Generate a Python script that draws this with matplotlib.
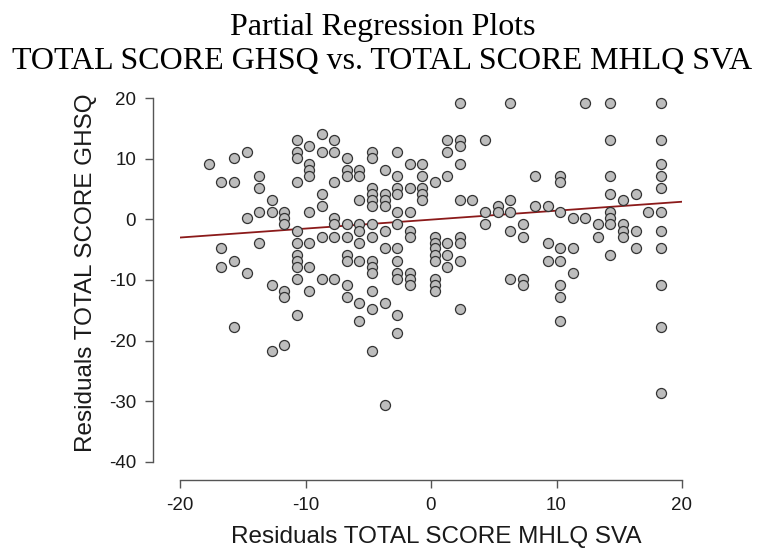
import matplotlib
matplotlib.use('Agg')
import matplotlib.pyplot as plt
import numpy as np

# residual pairs
resid_mhlq = [
    -17.7, -15.7, -14.7, -16.7, -15.7, -13.7, -13.7, -12.7, -14.7, -13.7, -12.7, -11.7, -11.7, -11.7,
    -10.7, -10.7, -10.7, -10.7, -9.7, -9.7, -9.7, -9.7, -9.7, -8.7, -8.7, -8.7, -8.7, -7.7, -7.7, -7.7,
    -7.7, -7.7,
    2.3, 6.3, 1.3, 2.3, 2.3, 4.3, 1.3, -6.7, -4.7, -4.7, -2.7, -6.7, -6.7, -5.7, -5.7, -3.7, -1.7, -0.7,
    -2.7, -0.7, 2.3, 1.3, 0.3, -4.7, -4.7, -4.7, -4.7, -3.7, -3.7, -3.7, -5.7, -2.7, -2.7, -1.7, -0.7,
    -0.7, -0.7, 2.3, 3.3, -2.7, -1.7, 4.3, 5.3, 5.3, 6.3, 6.3, -6.7, -5.7, -4.7, -2.7, 4.3, 7.3,
    12.3, 14.3, 18.3, 14.3, 18.3, 18.3, 18.3, 18.3, 8.3, 10.3, 10.3, 14.3, 14.3, 16.3, 15.3, 8.3, 9.3,
    10.3, 17.3, 18.3, 14.3, 14.3, 14.3, 11.3, 12.3, 13.3, 15.3,
    -10.7, -13.7, -10.7, -9.7, -8.7, -7.7, -16.7, -15.7, -16.7, -10.7, -10.7, -10.7, -9.7, -14.7,
    -10.7, -8.7, -7.7, -12.7, -11.7, -11.7, -9.7, -10.7, -15.7, -11.7, -12.7,
    -6.7, -5.7, -5.7, -4.7, -3.7, -1.7, -1.7, 0.3, 0.3, 0.3, 0.3, 0.3, 1.3, 1.3, 1.3, 2.3, 2.3, 2.3,
    6.3, 7.3, -3.7, -2.7, -6.7, -6.7, -5.7, -4.7, -4.7, -4.7, -2.7, -2.7, -2.7, -1.7, -1.7, -1.7,
    0.3, 0.3, 0.3, 6.3, 7.3, 7.3, -6.7, -6.7, -4.7, -5.7, -4.7, -3.7, -2.7, 2.3, -5.7, -2.7, -4.7, -3.7,
    9.3, 10.3, 11.3, 9.3, 10.3, 11.3, 13.3, 15.3, 15.3, 16.3, 18.3, 14.3, 16.3, 18.3, 10.3, 10.3,
    18.3, 10.3, 18.3, 18.3,
]
resid_ghsq = [
    9.2, 10.1, 11.1, 6.2, 6.2, 7.2, 5.2, 3.2, 0.2, 1.2, 1.2, 1.2, 0.2, -0.8,
    13.1, 11.1, 10.1, 6.2, 12.1, 9.2, 8.1, 7.2, 1.2, 14.1, 11.1, 4.2, 2.2, 13.1, 11.1, 6.2,
    0.2, -0.8,
    19.1, 19.1, 13.1, 13.1, 12.1, 13.1, 11.1, 10.1, 11.1, 10.1, 11.1, 8.1, 7.2, 8.1, 7.2, 8.1, 9.2, 9.2,
    7.2, 7.2, 9.2, 7.2, 6.2, 5.2, 4.2, 3.2, 2.2, 4.2, 3.2, 2.2, 3.2, 5.2, 4.2, 5.2, 5.2,
    4.2, 3.2, 3.2, 3.2, 1.2, 1.2, 1.2, 2.2, 1.2, 3.2, 1.2, -0.8, -0.8, -0.8, -0.8, -0.8, -0.8,
    19.1, 19.1, 19.1, 13.1, 13.1, 9.2, 7.2, 5.2, 7.2, 7.2, 6.2, 7.2, 4.2, 4.2, 3.2, 2.2, 2.2,
    1.2, 1.2, 1.2, 1.2, 0.2, -0.8, 0.2, 0.2, -0.8, -0.8,
    -1.9, -3.85, -3.85, -3.85, -2.9, -2.9, -4.8, -6.8, -7.8, -5.8, -6.8, -7.8, -7.8, -8.8,
    -9.8, -9.8, -9.8, -10.8, -11.8, -12.8, -11.8, -15.8, -17.8, -20.7, -21.7,
    -2.9, -1.9, -3.85, -2.9, -1.9, -1.9, -2.9, -2.9, -3.85, -4.8, -5.8, -6.8, -3.85, -5.8, -7.8, -2.9, -3.85, -6.8,
    -1.9, -2.9, -4.8, -4.8, -5.8, -6.8, -6.8, -6.8, -7.8, -8.8, -6.8, -8.8, -9.8, -8.8, -9.8, -10.8,
    -9.8, -10.8, -11.8, -9.8, -9.8, -10.8, -10.8, -12.8, -11.8, -13.75, -14.7, -13.75, -15.8, -14.7, -16.8, -18.8, -21.7, -30.6,
    -3.85, -4.8, -4.8, -6.8, -6.8, -8.8, -2.9, -1.9, -2.9, -1.9, -1.9, -5.8, -4.8, -4.8, -10.8, -12.8,
    -10.8, -16.8, -17.8, -28.7,
]

# fitted line end points
fit_x = [-20, 20]
fit_y = [-3.0, 2.9]

x_ticks = [-20, -10, 0, 10, 20]
y_ticks = [20, 10, 0, -10, -20, -30, -40]

plt.rcParams['font.family'] = ['Liberation Sans', 'DejaVu Sans']
plt.rcParams['axes.unicode_minus'] = False

W, H = 765, 553
fig = plt.figure(figsize=(W / 100, H / 100), dpi=100)
ax = fig.add_axes([180 / W, 1 - 462 / H, 502 / W, 364 / H])

ax.plot(fit_x, fit_y, color='#8b1a1a', linewidth=1.3, zorder=2)
ax.scatter(resid_mhlq, resid_ghsq, s=52, facecolor='#bdbdbd', edgecolor='#333333',
           linewidths=0.9, zorder=3, clip_on=False)

ax.set_xlim(-20, 20)
ax.set_ylim(-40, 20)
ax.set_xticks(x_ticks)
ax.set_yticks(y_ticks)

for side in ['top', 'right']:
    ax.spines[side].set_visible(False)
ax.spines['left'].set_position(('outward', 19.5))
ax.spines['bottom'].set_position(('outward', 13))
ax.spines['left'].set_bounds(-40, 20)
ax.spines['bottom'].set_bounds(-20, 20)
for side in ['left', 'bottom']:
    ax.spines[side].set_color('#555555')
    ax.spines[side].set_linewidth(1.0)

ax.tick_params(axis='both', length=6, width=1.0, color='#555555', labelsize=13.5, labelcolor='#1a1a1a')
ax.tick_params(axis='y', pad=6)
ax.tick_params(axis='x', pad=6)

ax.set_xlabel('Residuals TOTAL SCORE MHLQ SVA', fontsize=17.5, color='#1a1a1a')
ax.set_ylabel('Residuals TOTAL SCORE GHSQ', fontsize=17.5, color='#1a1a1a')
ax.xaxis.set_label_coords(0.51, -0.175)
ax.yaxis.set_label_coords(-0.165, 0.52)

fig.text(0.5, 1 - 35 / H, 'Partial Regression Plots', ha='center', va='baseline',
         fontsize=23, family='Liberation Serif')
fig.text(0.5, 1 - 69 / H, 'TOTAL SCORE GHSQ vs. TOTAL SCORE MHLQ SVA', ha='center', va='baseline',
         fontsize=23, family='Liberation Serif')

fig.savefig('out.png', dpi=100)
